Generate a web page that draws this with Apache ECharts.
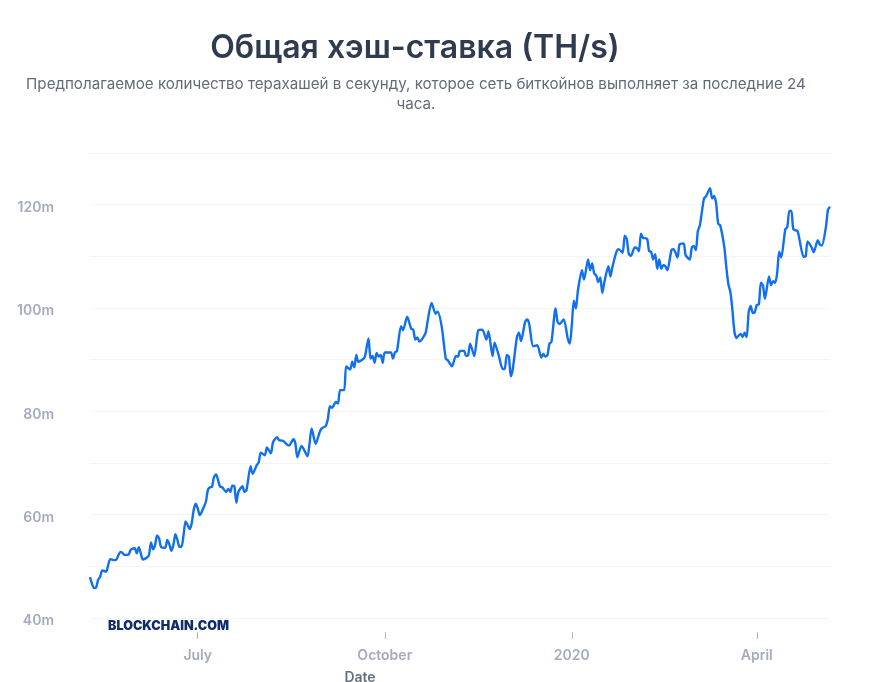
<!DOCTYPE html>
<html>
<head>
<meta charset="utf-8">
<style>
	html, body { margin: 0; padding: 0; background: #fff; }
	#chart { width: 869px; height: 682px; }
</style>
<script src="https://cdn.jsdelivr.net/npm/echarts@6/dist/echarts.min.js"></script>
</head>
<body>
<div id="chart"></div>
<script>
// days since the first sample
const startDate = Date.UTC(2019, 4, 9);
const days = [
	0,1,2,3,4,5,6,8,9,10,12,13,14,15,16,17,19,20,22,23,
	24,25,26,28,29,30,31,32,33,34,35,37,38,39,40,41,42,43,44,45,
	46,47,48,49,50,51,52,53,54,56,57,58,59,60,61,62,63,64,65,67,
	68,69,70,71,72,73,75,76,77,79,80,82,83,84,86,87,89,90,92,93,
	95,97,98,100,101,102,104,105,107,108,109,111,113,114,116,117,118,119,121,122,
	123,125,126,128,129,130,131,132,135,136,137,138,139,140,141,142,143,144,145,148,
	149,150,151,153,154,156,158,159,160,161,162,165,166,168,170,171,173,175,176,178,
	180,181,182,184,185,186,187,189,191,193,195,196,198,199,201,203,204,205,206,207,
	208,210,211,212,214,215,216,218,220,222,223,224,225,226,227,229,230,231,233,235,
	236,237,238,239,240,242,243,245,246,247,248,249,250,251,252,253,255,256,257,259,
	260,262,263,264,265,266,268,269,270,271,272,274,275,276,277,278,279,280,281,282,
	283,284,286,287,289,290,292,293,295,296,297,298,299,300,302,303,305,306,307,308,
	309,310,312,313,314,315,316,317,318,320,321,322,323,324,325,326,327,328,329,330,
	331,332,334,335,336,337,338,339,340,342,343,344,345,346,348,349,351,352,353,355,
	356,358,359,360,362,363,364
];
// hash rate in millions of TH/s
const hashRate = [
	47.9,46.6,45.8,45.9,47.4,48.0,49.2,49.0,50.4,51.4,51.2,51.3,52.2,52.8,52.6,52.2,52.3,53.2,53.5,52.5,
	53.7,52.5,51.3,51.7,52.2,54.6,53.3,54.1,56.0,55.4,53.7,53.6,55.1,54.3,53.0,54.1,56.2,55.1,53.8,53.8,
	56.0,58.7,58.0,57.2,58.3,60.9,62.1,61.2,59.9,61.5,62.5,64.8,65.3,65.4,67.3,67.8,66.7,65.4,65.3,64.4,
	65.0,64.4,65.6,65.5,62.3,64.4,65.5,64.4,64.8,69.4,67.9,69.6,70.1,72.0,71.5,73.0,71.9,74.0,75.0,74.4,
	74.3,73.5,73.4,74.6,73.8,71.1,73.3,72.8,71.3,73.8,76.7,73.7,76.0,76.7,77.2,78.5,81.0,80.7,81.8,81.5,
	84.1,84.1,88.7,88.1,89.6,88.5,90.9,89.6,90.4,92.2,94.1,90.2,90.7,89.4,91.3,90.6,90.9,89.4,91.4,91.4,
	90.2,91.4,91.7,96.5,95.7,98.3,96.0,95.8,93.9,94.3,93.5,95.1,97.3,101.0,98.9,99.3,96.4,90.2,89.9,88.7,
	90.7,90.6,91.7,91.7,90.7,90.9,93.1,90.7,95.7,95.8,93.9,95.5,90.7,93.3,90.9,88.2,88.2,90.9,90.6,86.8,
	88.3,94.4,95.2,93.6,97.3,97.8,97.0,92.6,92.8,90.4,91.1,90.6,90.9,93.1,93.5,99.9,97.3,96.9,97.8,94.1,
	93.1,96.7,101.4,99.9,103.4,107.3,105.5,109.4,107.3,108.6,106.7,106.3,105.0,105.9,102.9,105.0,108.1,106.1,108.0,110.9,
	111.4,110.7,114.0,113.4,110.5,110.1,111.7,111.6,111.0,114.4,113.6,113.4,111.0,110.9,109.4,110.4,107.6,109.4,107.6,108.3,
	108.1,107.3,111.2,111.4,109.8,112.3,112.5,110.2,109.4,111.7,112.0,111.2,114.9,116.0,121.2,121.6,123.2,121.2,121.7,120.2,
	116.3,116.0,111.8,107.9,104.6,103.1,99.6,95.4,94.2,95.0,94.4,95.2,94.4,99.2,100.4,99.0,99.2,100.6,100.7,104.9,
	104.4,101.8,106.1,104.4,105.2,104.9,106.7,110.9,109.8,115.2,115.7,118.8,118.8,115.2,114.9,113.2,109.9,110.0,112.9,111.7,
	110.8,113.1,112.3,112.1,115.7,119.0,119.6
];
const tickDates = [Date.UTC(2019, 6, 1), Date.UTC(2019, 9, 1), Date.UTC(2020, 0, 1), Date.UTC(2020, 3, 1)];
const tickLabels = ['July', 'October', '2020', 'April'];

const DAY = 24 * 3600 * 1000;
const seriesData = days.map((d, i) => [startDate + d * DAY, hashRate[i]]);
const labelColor = '#a5abbf';

const myChart = echarts.init(document.getElementById('chart'), null, { renderer: 'canvas' });
myChart.setOption({
	animation: false,
	backgroundColor: '#fff',
	textStyle: { fontFamily: 'Inter' },
	title: [
		{
			text: 'Общая хэш-ставка (TH/s)',
			left: 410, top: 27, textAlign: 'center',
			textStyle: { fontFamily: 'Inter', fontSize: 32, fontWeight: 600, color: '#2f3b4f' }
		},
		{
			text: 'Предполагаемое количество терахашей в секунду, которое сеть биткойнов выполняет за последние 24\nчаса.',
			left: 411, top: 69, textAlign: 'center',
			textStyle: { fontFamily: 'Inter', fontSize: 15.15, fontWeight: 400, lineHeight: 20, color: '#626b7a' }
		},
		{
			text: 'BLOCKCHAIN.COM',
			left: 103, top: 615,
			textStyle: { fontFamily: 'Inter', fontSize: 12.6, fontWeight: 900, color: '#0f2d6b' }
		}
	],
	grid: { left: 90, right: 39, top: 153, bottom: 64, outerBoundsMode: 'none' },
	xAxis: {
		// plain value axis on timestamps, the time axis breaks on customValues
		type: 'value',
		min: startDate,
		max: startDate + 364 * DAY,
		offset: 14,
		name: 'Date',
		nameLocation: 'middle',
		nameGap: 39,
		nameTextStyle: { fontFamily: 'Inter', fontSize: 14, fontWeight: 600, color: '#666f80', padding: [0, 200, 0, 0] },
		axisLine: { show: false },
		axisTick: { show: true, length: 7, customValues: tickDates, lineStyle: { color: '#b4b9c7', width: 1 } },
		axisLabel: {
			customValues: tickDates,
			margin: 17,
			fontFamily: 'Inter', fontSize: 14, fontWeight: 600, color: labelColor,
			formatter: v => tickLabels[tickDates.indexOf(v)] || ''
		},
		splitLine: { show: false }
	},
	yAxis: {
		type: 'value',
		min: 40,
		max: 130,
		interval: 10,
		axisLine: { show: false },
		axisTick: { show: false },
		axisLabel: {
			margin: 36,
			// labels sit a little under their gridlines
			verticalAlign: 'top',
			lineHeight: 6,
			fontFamily: 'Inter', fontSize: 14, fontWeight: 600, color: labelColor,
			formatter: v => (v % 20 === 0 ? v + 'm' : '')
		},
		splitLine: { show: true, lineStyle: { color: '#f3f4f6', width: 1 } }
	},
	series: [
		{
			name: 'Hash rate',
			type: 'line',
			data: seriesData,
			showSymbol: false,
			smooth: 0.25,
			lineStyle: { color: '#1170ef', width: 2.4 },
			itemStyle: { color: '#1170ef' }
		}
	]
});
</script>
</body>
</html>
